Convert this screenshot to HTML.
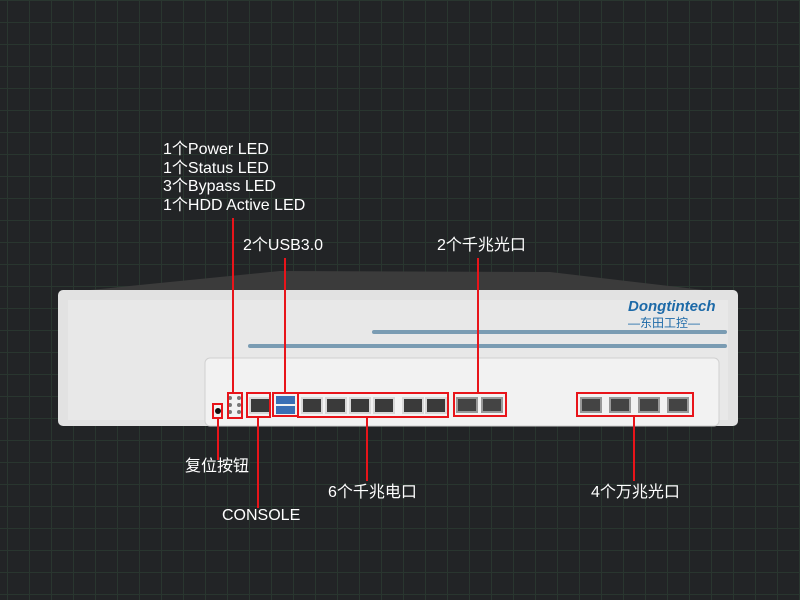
<!DOCTYPE html>
<html><head><meta charset="utf-8"><style>
body{margin:0;width:800px;height:600px;overflow:hidden;background:#222426;
background-image:linear-gradient(#29362f 1px,transparent 1px),linear-gradient(90deg,#29362f 1px,transparent 1px);
background-size:22px 22px;background-position:7px 0;position:relative;font-family:"Liberation Sans","Noto Sans CJK SC",sans-serif;}
.a{position:absolute}
.t{position:absolute;color:#fff;font-size:16px;line-height:18.7px;white-space:nowrap}
.r{position:absolute;border:2px solid #e8141a;box-sizing:border-box}
.v{position:absolute;width:2px;background:#e8141a}
.port{position:absolute;top:397px;width:22px;height:17px;background:#3a3a3a;border:2px solid #d8d8d8;box-sizing:border-box}
.sfp{position:absolute;top:397px;width:22px;height:16px;background:#444;border:2px solid #999;box-sizing:border-box}
</style></head><body>
<svg class="a" style="left:0;top:0" width="800" height="600">
<polygon points="60,293 280,271 550,272 738,294" fill="#3b3b3b"/>
<rect x="58" y="290" width="680" height="136" rx="5" fill="#e2e2e2"/>
<rect x="68" y="300" width="660" height="120" fill="#e8e8e8"/>
<rect x="205" y="358" width="514" height="68" rx="5" fill="#f2f2f2" stroke="#d0d0d0"/>
<rect x="372" y="330" width="355" height="4" rx="2" fill="#7a9cb3"/>
<rect x="248" y="344" width="479" height="4" rx="2" fill="#7a9cb3"/>
<circle cx="218" cy="411" r="3" fill="#111"/>
<g fill="#777"><circle cx="230" cy="398" r="2"/><circle cx="239" cy="398" r="2"/><circle cx="230" cy="405" r="2"/><circle cx="239" cy="405" r="2"/><circle cx="230" cy="412" r="2"/><circle cx="239" cy="412" r="2"/></g>
<rect x="276" y="396" width="19" height="8" fill="#3a6fb5"/><rect x="276" y="406" width="19" height="8" fill="#3a6fb5"/>
</svg>
<div class="t" style="left:628px;top:298px;font-size:15px;font-weight:bold;font-style:italic;color:#1d6aa8">Dongtintech</div>
<div class="t" style="left:628px;top:314px;font-size:12px;color:#1d6aa8">—东田工控—</div>
<div class="port" style="left:249px"></div>
<div class="port" style="left:301px"></div><div class="port" style="left:325px"></div><div class="port" style="left:349px"></div><div class="port" style="left:373px"></div>
<div class="port" style="left:402px"></div><div class="port" style="left:425px"></div>
<div class="sfp" style="left:456px"></div><div class="sfp" style="left:481px"></div>
<div class="sfp" style="left:580px"></div><div class="sfp" style="left:609px"></div><div class="sfp" style="left:638px"></div><div class="sfp" style="left:667px"></div>
<div class="v" style="left:232px;top:218px;height:176px"></div>
<div class="r" style="left:227px;top:392px;width:16px;height:27px"></div>
<div class="v" style="left:284px;top:258px;height:135px"></div>
<div class="r" style="left:272px;top:392px;width:27px;height:25px"></div>
<div class="v" style="left:477px;top:258px;height:135px"></div>
<div class="r" style="left:453px;top:392px;width:54px;height:25px"></div>
<div class="r" style="left:212px;top:403px;width:11px;height:16px"></div>
<div class="v" style="left:217px;top:418px;height:42px"></div>
<div class="r" style="left:246px;top:392px;width:25px;height:26px"></div>
<div class="v" style="left:257px;top:417px;height:91px"></div>
<div class="r" style="left:297px;top:392px;width:152px;height:26px"></div>
<div class="v" style="left:366px;top:417px;height:64px"></div>
<div class="r" style="left:576px;top:392px;width:118px;height:25px"></div>
<div class="v" style="left:633px;top:416px;height:65px"></div>
<div class="t" style="left:163px;top:141px">1个Power LED<br>1个Status LED<br>3个Bypass LED<br>1个HDD Active LED</div>
<div class="t" style="left:243px;top:237px">2个USB3.0</div>
<div class="t" style="left:437px;top:237px">2个千兆光口</div>
<div class="t" style="left:185px;top:458px">复位按钮</div>
<div class="t" style="left:328px;top:484px">6个千兆电口</div>
<div class="t" style="left:591px;top:484px">4个万兆光口</div>
<div class="t" style="left:222px;top:507px">CONSOLE</div>
</body></html>
